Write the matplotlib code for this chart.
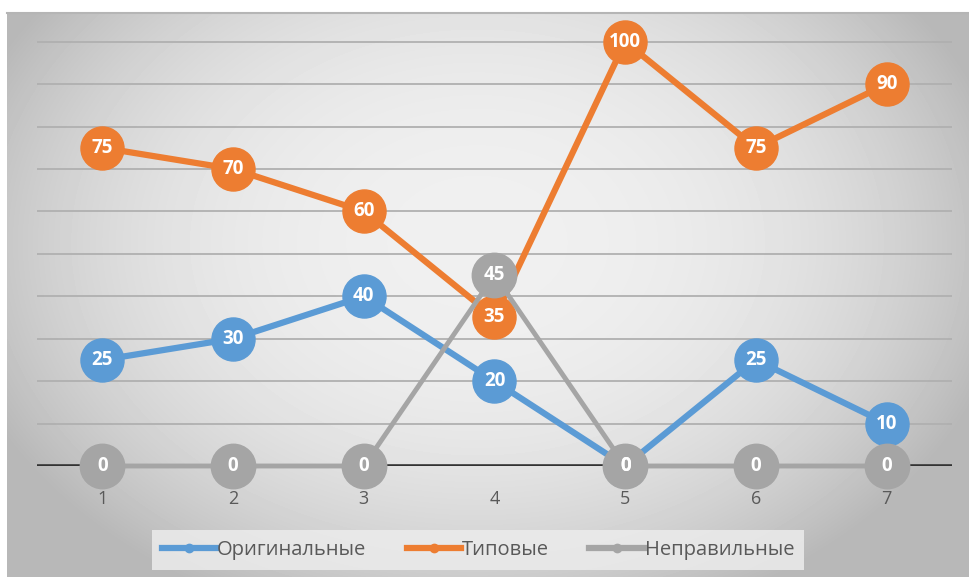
import numpy as np
import matplotlib.pyplot as plt
from matplotlib.lines import Line2D

categories = ['1', '2', '3', '4', '5', '6', '7']
original = [25, 30, 40, 20, 0, 25, 10]
typical = [75, 70, 60, 35, 100, 75, 90]
wrong = [0, 0, 0, 45, 0, 0, 0]
series_names = ['Оригинальные', 'Типовые', 'Неправильные']
colors = ['#5B9BD5', '#ED7D31', '#A5A5A5']

plt.rcParams['font.family'] = ['Open Sans', 'DejaVu Sans']

W, H = 969, 582
fig = plt.figure(figsize=(W / 100, H / 100), dpi=100)

# gray radial gradient behind the chart
bg = fig.add_axes([0, 0, 1, 1])
bg.set_xlim(0, W)
bg.set_ylim(H, 0)
bg.axis('off')
yy, xx = np.mgrid[0:565, 0:962]
d = np.sqrt(((xx - 470) / 540.0) ** 2 + ((yy - 230) / 400.0) ** 2)
shade = np.clip(0.94 - 0.22 * d ** 2.5, 0.72, 1)
bg.imshow(shade, cmap='gray', vmin=0, vmax=1, extent=[7, 969, 577, 12],
          aspect='auto', interpolation='bilinear')
bg.plot([7, 969], [12.5, 12.5], color='#b5b5b5', lw=1.5)

ax = fig.add_axes([37 / W, (H - 466) / H, (952 - 37) / W, (466 - 12) / H])
ax.set_facecolor('none')
x = np.arange(1, len(categories) + 1)
ax.set_xlim(0.5, len(categories) + 0.5)
ax.set_ylim(0, 107)

for v in range(10, 101, 10):
    ax.axhline(v, color='#b0b0b0', lw=1.3, zorder=1)
ax.axhline(0, color='#333333', lw=2.6, zorder=1)

all_series = [original, typical, wrong]
widths = [4.5, 4.5, 3.5]
sizes = [31, 31, 32]
for i, (vals, col, lw, ms) in enumerate(zip(all_series, colors, widths, sizes)):
    ax.plot(x, vals, color=col, lw=lw, marker='o', ms=ms, mec=col,
            zorder=3 + i, clip_on=False)
    for xi, v in zip(x, vals):
        ax.text(xi, v, str(v), ha='center', va='center', color='white',
                fontsize=13.5, fontweight='bold', zorder=10, clip_on=False)

for s in ax.spines.values():
    s.set_visible(False)
ax.set_yticks([])
ax.set_xticks(x, categories)
ax.tick_params(axis='x', length=0, pad=17, labelsize=13, colors='#595959')

handles = [Line2D([], [], color=c, lw=4.5, marker='o', ms=6) for c in colors]
leg = fig.legend(handles, series_names, loc='center', bbox_to_anchor=(478 / W, 1 - 550 / H),
                 ncol=3, fontsize=14.5, handlelength=2.7, handletextpad=0.05,
                 columnspacing=2.0, frameon=True, fancybox=False,
                 borderpad=0.5)
leg.get_frame().set_facecolor('#ececec')
leg.get_frame().set_edgecolor('none')
leg.get_frame().set_alpha(0.85)
for t in leg.get_texts():
    t.set_color('#595959')

fig.savefig('out.png', dpi=100)
